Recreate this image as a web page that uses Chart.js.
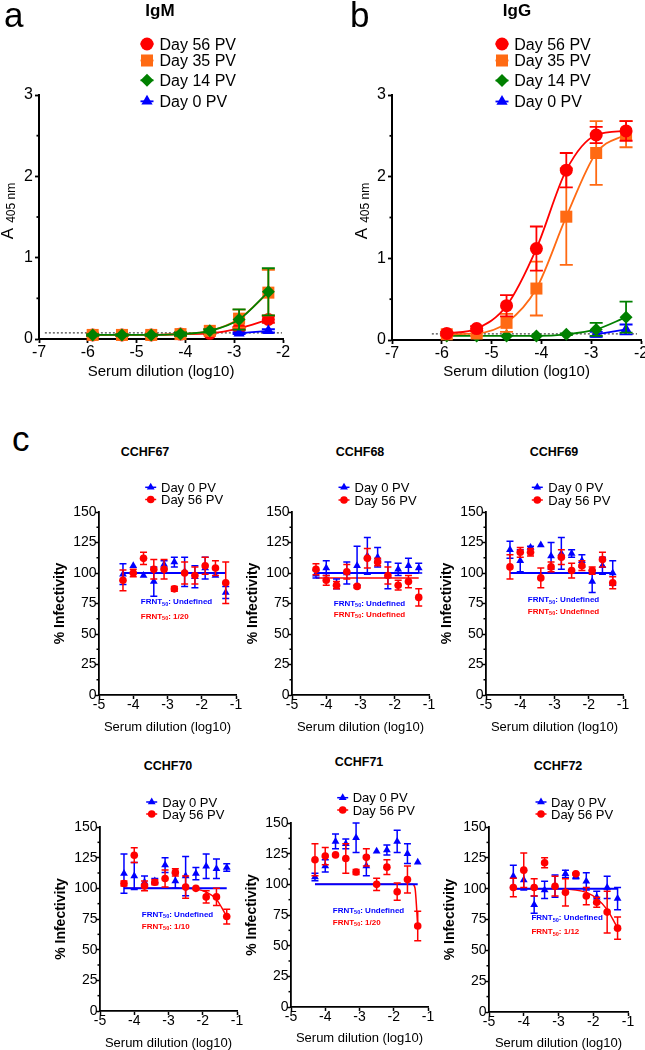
<!DOCTYPE html>
<html>
<head>
<meta charset="utf-8">
<title>IgM / IgG ELISA and FRNT curves</title>
<script src="https://cdn.jsdelivr.net/npm/chart.js@4.4.1/dist/chart.umd.min.js"></script>
<style>
  html, body { margin: 0; padding: 0; background: #fff; overflow: hidden; }
  body { position: relative; width: 645px; height: 1050px; font-family: 'Liberation Sans', Arial, sans-serif; }
  canvas { position: absolute; }
  .txt { position: absolute; white-space: nowrap; line-height: 1; color: #000; }
</style>
</head>
<body>
<script>
// ---------- data ----------

// ELISA, serum dilution (log10)
const elisaDil = [-5.9, -5.3, -4.7, -4.1, -3.5, -2.9, -2.3];
const elisaNames = ['Day 56 PV', 'Day 35 PV', 'Day 14 PV', 'Day 0 PV'];
const cutoff = 0.075;

// a - IgM
const igmD56 = [0.05, 0.05, 0.05, 0.06, 0.07, 0.13, 0.24];
const igmD56Err = [0.01, 0.01, 0.01, 0.01, 0.01, 0.02, 0.04];
const igmD35 = [0.05, 0.05, 0.05, 0.06, 0.10, 0.25, 0.57];
const igmD35Err = [0.01, 0.01, 0.01, 0.02, 0.02, 0.11, 0.28];
const igmD14 = [0.05, 0.05, 0.05, 0.06, 0.10, 0.24, 0.58];
const igmD14Err = [0.01, 0.01, 0.01, 0.02, 0.02, 0.125, 0.29];
const igmD0 = [null, null, null, null, null, 0.07, 0.10];
const igmD0Err = [0, 0, 0, 0, 0, 0.01, 0.02];

// b - IgG
const iggD56 = [0.08, 0.14, 0.42, 1.12, 2.08, 2.51, 2.56];
const iggD56Err = [0.02, 0.03, 0.13, 0.27, 0.21, 0.10, 0.12];
const iggD35 = [0.07, 0.08, 0.21, 0.63, 1.51, 2.29, 2.52];
const iggD35Err = [0.02, 0.03, 0.11, 0.33, 0.59, 0.39, 0.16];
const iggD14 = [0.05, 0.05, 0.05, 0.05, 0.07, 0.13, 0.28];
const iggD14Err = [0, 0, 0, 0, 0.01, 0.08, 0.19];
const iggD0 = [null, null, null, null, null, 0.07, 0.13];
const iggD0Err = [0, 0, 0, 0, 0, 0.03, 0.06];

// c - FRNT, serum dilution (log10)
const frntDil = [-4.3, -4.0, -3.7, -3.4, -3.1, -2.8, -2.5, -2.2, -1.9, -1.6, -1.3];

const c67Day0 = [99, 106, 98, 93, 107, 109, 101, 97, 104, 98, 84];
const c67Day0Err = [8.5, 0, 0, 12, 3, 4, 12, 9, 9, 0, 5];
const c67Day56 = [94, 100, 112, 103, 103, 87, 100, 98, 106, 104, 92];
const c67Day56Err = [8.5, 3, 5, 8, 8, 2, 9, 7, 7, 6, 17];
const c67FitX = [-4.3, -1.3];
const c67FitDay0 = [100, 100];
const c67FitDay56 = [100, 100];

const c68Day0 = [99, 104, 91, 100, 106, 114, 113, 98, 103, 106, 104];
const c68Day0Err = [3, 6, 4, 9, 16, 15, 8, 11, 5, 6, 4];
const c68Day56 = [103, 94, 90, 101, 89, 112, 109, 98, 90, 93, 80];
const c68Day56Err = [4.5, 4, 3, 6, 1, 8, 3, 7, 4, 5, 7];
const c68FitX = [-4.3, -1.3];
const c68FitDay0 = [100, 100];
const c68FitDay56 = [96, 96];

const c69Day0 = [119, 110, 121, 123, 114, 116, 116, 110, 93, 106, 100];
const c69Day0Err = [7, 9, 1, 0, 11, 13, 3, 5, 9, 7, 10];
const c69Day56 = [105, 117, 117, 96, 105, 113, 102, 106, 102, 111, 92];
const c69Day56Err = [10, 4, 3, 8, 4, 6, 6, 4, 3, 6, 5];
const c69FitX = [-4.3, -1.3];
const c69FitDay0 = [100, 100];
const c69FitDay56 = [100, 100];

const c70Day0 = [112, 110, 105, 106, 119, 106, 110, 112, 118, 116, 117];
const c70Day0Err = [16, 11, 5, 2, 6, 6, 16, 5, 10, 8, 3];
const c70Day56 = [104, 127, 102, 105, 108, 113, 101, 100, 93, 93, 77];
const c70Day56Err = [2, 6, 4, 2, 7, 3, 9, 0, 5, 7, 6];
const c70FitX0 = [-4.3, -1.3];
const c70FitDay0 = [100, 100];
const c70FitX56 = [-4.3, -2.5, -2.2, -1.9, -1.6, -1.3];
const c70FitDay56 = [100, 100, 99.5, 97, 91, 77];

const c71Day0 = [106, 115, 135, 133, 138, 115, 127, 128, 135, 125, 118];
const c71Day0Err = [3, 5, 6, 4, 12, 8, 0, 4, 9, 8, 0];
const c71Day56 = [120, 123, 124, 121, 110, 122, 100, 114, 94, 104, 66];
const c71Day56Err = [13, 7, 0, 12, 2, 7, 5, 6, 7, 11, 12];
const c71FitX0 = [-4.3, -1.3];
const c71FitDay0 = [100, 100];
const c71FitX56 = [-4.3, -1.45, -1.38, -1.3];
const c71FitDay56 = [100, 100, 97, 66];

const c72Day0 = [110, 107, 87, 99, 102, 112, 110, 106, 93, 101, 92];
const c72Day0Err = [9, 8, 7, 7, 9, 3, 2, 7, 5, 9, 9];
const c72Day56 = [101, 115, 101, 121, 102, 97, 112, 94, 89, 81, 68];
const c72Day56Err = [7.5, 14, 7, 4, 8, 11, 1, 7, 4, 17, 9];
const c72FitX0 = [-4.3, -1.3];
const c72FitDay0 = [100, 100];
const c72FitX56 = [-4.3, -3.1, -2.5, -2.2, -1.9, -1.6, -1.3];
const c72FitDay56 = [100, 100, 99, 97, 92, 83, 68];

// ---------- helpers ----------
const FONT = "'Liberation Sans', Arial, Helvetica, sans-serif";
const BLACK = '#000';
const RED = '#ff0000', ORANGE = '#ff6a13', GREEN = '#008000', BLUE = '#0000ff';

Chart.defaults.font.family = FONT;
Chart.defaults.color = BLACK;

function pts(xs, ys) {
  return xs.map((x, i) => ({ x: x, y: ys[i] }));
}

// points (optionally joined by a smooth line) with error bars
function series(label, xs, ys, errs, st) {
  return {
    label: label, data: pts(xs, ys), errors: errs,
    borderColor: st.color, backgroundColor: st.color,
    pointBackgroundColor: st.color, pointBorderColor: st.color, pointBorderWidth: 0,
    pointStyle: st.shape, pointRadius: st.r, pointHoverRadius: st.r,
    showLine: !!st.line, borderWidth: st.lw || 1.5, cubicInterpolationMode: 'monotone',
    capHalf: st.cap, errWidth: st.ew, order: st.order, clip: false
  };
}

function curve(xs, ys, color, lw, order, dash) {
  return {
    label: '', data: pts(xs, ys), borderColor: color, borderWidth: lw,
    borderDash: dash || [], pointRadius: 0, pointHoverRadius: 0, showLine: true,
    cubicInterpolationMode: 'monotone', order: order, clip: false
  };
}

// error bars, drawn right before their own dataset
const errorBars = {
  id: 'errorBars',
  beforeDatasetDraw(chart, args) {
    const ds = chart.data.datasets[args.index];
    if (!ds.errors) return;
    const ys = chart.scales.y, ctx = chart.ctx;
    ctx.save();
    ctx.strokeStyle = ds.borderColor;
    ctx.lineWidth = ds.errWidth;
    args.meta.data.forEach((pt, i) => {
      const v = ds.data[i].y, e = ds.errors[i];
      if (v === null || !e) return;
      const x = pt.x;
      const top = ys.getPixelForValue(v + e), bot = ys.getPixelForValue(v - e);
      ctx.beginPath();
      ctx.moveTo(x, top); ctx.lineTo(x, bot);
      ctx.moveTo(x - ds.capHalf, top); ctx.lineTo(x + ds.capHalf, top);
      ctx.moveTo(x - ds.capHalf, bot); ctx.lineTo(x + ds.capHalf, bot);
      ctx.stroke();
    });
    ctx.restore();
  }
};

// short ticks half way between the labelled y ticks
const minorTicks = {
  id: 'minorTicks',
  afterDraw(chart, args, o) {
    if (!o.step) return;
    const ys = chart.scales.y, ctx = chart.ctx, left = chart.chartArea.left;
    ctx.save();
    ctx.strokeStyle = BLACK;
    ctx.lineWidth = o.width;
    for (let v = ys.min + o.step; v < ys.max; v += o.step * 2) {
      const py = ys.getPixelForValue(v);
      ctx.beginPath();
      ctx.moveTo(left - o.len, py); ctx.lineTo(left, py);
      ctx.stroke();
    }
    ctx.restore();
  }
};

const panelLegend = {
  id: 'panelLegend',
  afterDraw(chart, args, o) {
    if (!o.rows) return;
    const ctx = chart.ctx;
    o.rows.forEach(row => {
      const ds = chart.data.datasets[row.ds];
      ctx.save();
      ctx.strokeStyle = ds.borderColor;
      ctx.lineWidth = o.lw;
      ctx.beginPath();
      ctx.moveTo(o.x - o.half, row.y); ctx.lineTo(o.x + o.half, row.y);
      ctx.stroke();
      ctx.fillStyle = ds.pointBackgroundColor;
      Chart.helpers.drawPoint(ctx, { pointStyle: ds.pointStyle, radius: ds.pointRadius, rotation: 0, borderWidth: 0 }, o.x, row.y);
      ctx.fillStyle = BLACK;
      ctx.font = o.size + 'px ' + FONT;
      ctx.textBaseline = 'alphabetic';
      ctx.fillText(ds.label, o.textX, row.y + 0.358 * o.size);
      ctx.restore();
    });
  }
};

// "FRNT50: ..." notes, anchored in data units
const frntNotes = {
  id: 'frntNotes',
  afterDraw(chart, args, o) {
    if (!o.items) return;
    const ctx = chart.ctx, xs = chart.scales.x, ys = chart.scales.y;
    o.items.forEach(n => {
      let px = xs.getPixelForValue(n.x);
      const py = ys.getPixelForValue(n.y);
      ctx.save();
      ctx.fillStyle = n.color;
      ctx.textBaseline = 'middle';
      ctx.font = 'bold 8px ' + FONT;
      ctx.fillText('FRNT', px, py);
      px += ctx.measureText('FRNT').width;
      ctx.font = 'bold 5.5px ' + FONT;
      ctx.fillText('50', px, py + 2.2);
      px += ctx.measureText('50').width;
      ctx.font = 'bold 8px ' + FONT;
      ctx.fillText(': ' + n.text, px, py);
      ctx.restore();
    });
  }
};

// y title with subscript: A 405 nm
const subTitle = {
  id: 'subTitle',
  afterDraw(chart, args, o) {
    if (!o.main) return;
    const ctx = chart.ctx;
    ctx.save();
    ctx.translate(o.x, o.y);
    ctx.rotate(-Math.PI / 2);
    ctx.fillStyle = BLACK;
    ctx.textBaseline = 'alphabetic';
    ctx.font = o.size + 'px ' + FONT;
    const w1 = ctx.measureText(o.main).width;
    ctx.font = o.subSize + 'px ' + FONT;
    const w2 = ctx.measureText(o.sub).width;
    const s = -(w1 + o.gap + w2) / 2;
    ctx.font = o.size + 'px ' + FONT;
    ctx.fillText(o.main, s, 0);
    ctx.font = o.subSize + 'px ' + FONT;
    ctx.fillText(o.sub, s + w1 + o.gap, o.drop);
    ctx.restore();
  }
};

function text(str, x, baseline, size, bold, center) {
  const d = document.createElement('div');
  d.className = 'txt';
  d.textContent = str;
  d.style.fontSize = size + 'px';
  d.style.fontWeight = bold ? 'bold' : 'normal';
  d.style.top = (baseline - 0.8465 * size) + 'px';
  if (center) {
    d.style.left = (x - 100) + 'px';
    d.style.width = '200px';
    d.style.textAlign = 'center';
  } else {
    d.style.left = x + 'px';
  }
  document.body.appendChild(d);
}

function panel(p) {
  const [cx, cy, cw, ch] = p.box;
  const [L, T, R, B] = p.area;
  const c = document.createElement('canvas');
  c.width = cw; c.height = ch;
  c.style.left = cx + 'px'; c.style.top = cy + 'px';
  document.body.appendChild(c);
  const xlh = p.xTitleSize * 1.2;
  const ylh = p.yTitleSize * 1.2;
  const rows = p.legend.rows.map((y, i) => ({ ds: p.legend.ds[i], y: y - cy }));
  const sub = p.subTitle ? Object.assign({}, p.subTitle, { x: p.subTitle.x - cx, y: p.subTitle.y - cy }) : {};
  return new Chart(c, {
    type: 'line',
    data: { datasets: p.datasets },
    options: {
      responsive: false, animation: false, devicePixelRatio: 1, events: [],
      layout: { padding: { left: 0, top: T - cy, right: cx + cw - R, bottom: 0 } },
      plugins: {
        legend: { display: false }, tooltip: { enabled: false }, title: { display: false },
        minorTicks: { step: p.minor, len: p.minorLen, width: p.tickW },
        panelLegend: { x: p.legend.x - cx, textX: p.legend.textX - cx, rows: rows, size: p.legend.size, half: p.legend.half, lw: p.legend.lw },
        frntNotes: { items: p.notes || [] },
        subTitle: sub
      },
      scales: {
        x: {
          type: 'linear', min: p.xRange[0], max: p.xRange[1],
          ticks: { stepSize: 1, color: BLACK, padding: p.xTickPad, font: { size: p.tickSize, lineHeight: 1 } },
          border: { color: BLACK, width: p.axisW },
          grid: { drawOnChartArea: false, tickLength: p.tickLen, tickWidth: p.tickW, tickColor: BLACK },
          title: { display: true, text: 'Serum dilution (log10)', color: BLACK, font: { size: p.xTitleSize },
                   padding: { top: 0, bottom: cy + ch - p.xTitleMid - xlh / 2 } },
          afterFit(s) { s.height = cy + ch - B; s.paddingLeft = 0; s.paddingRight = 0; s.paddingTop = 0; s.paddingBottom = 0; }
        },
        y: {
          type: 'linear', min: p.yRange[0], max: p.yRange[1],
          ticks: { stepSize: p.yStep, color: BLACK, padding: p.yTickPad, font: { size: p.tickSize, lineHeight: 1 } },
          border: { color: BLACK, width: p.axisW },
          grid: { drawOnChartArea: false, tickLength: p.tickLen, tickWidth: p.tickW, tickColor: BLACK },
          title: p.yTitle
            ? { display: true, text: p.yTitle, color: BLACK, font: { size: p.yTitleSize, weight: 'bold' },
                padding: { top: p.yTitleMid - cx - ylh / 2, bottom: 0 } }
            : { display: false },
          afterFit(s) { s.width = L - cx; s.paddingLeft = 0; s.paddingRight = 0; s.paddingTop = 0; s.paddingBottom = 0; }
        }
      }
    },
    plugins: [errorBars, minorTicks, panelLegend, frntNotes, subTitle]
  });
}

// ---------- a & b: ELISA ----------
const big = { tickSize: 16, tickLen: 4, tickW: 1.8, axisW: 2, xTickPad: 1.5, yTickPad: 2, minorLen: 2.5,
              xRange: [-7, -2], yRange: [0, 3], yStep: 1, minor: 0.5, xTitleSize: 15, xTitleMid: 371.8, yTitleSize: 15 };

function elisaSets(d56, e56, d35, e35, d14, e14, d0, e0, ord, cut) {
  return [
    series(elisaNames[0], elisaDil, d56, e56, { color: RED, shape: 'circle', r: 6.5, line: true, lw: 1.8, cap: 6.5, ew: 1.8, order: ord[0] }),
    series(elisaNames[1], elisaDil, d35, e35, { color: ORANGE, shape: 'rect', r: 8.5, line: true, lw: 1.8, cap: 6.5, ew: 1.8, order: ord[1] }),
    series(elisaNames[2], elisaDil, d14, e14, { color: GREEN, shape: 'rectRot', r: 6.5, line: true, lw: 1.8, cap: 6.5, ew: 1.8, order: ord[2] }),
    series(elisaNames[3], elisaDil, d0, e0, { color: BLUE, shape: 'triangle', r: 6.5, line: true, lw: 1.8, cap: 6.5, ew: 1.8, order: ord[3] }),
    curve(cut, [cutoff, cutoff], '#444', 1.2, 9, [2, 2])
  ];
}

panel(Object.assign({}, big, {
  box: [0, 0, 325, 392], area: [39, 95, 283, 339],
  subTitle: { main: 'A', sub: '405 nm', size: 17, subSize: 12, gap: 5, drop: 2, x: 13.3, y: 211 },
  legend: { x: 147, textX: 159.5, rows: [44, 60.5, 80.3, 101.3], ds: [0, 1, 2, 3], size: 16, half: 6.5, lw: 1.8 },
  datasets: elisaSets(igmD56, igmD56Err, igmD35, igmD35Err, igmD14, igmD14Err, igmD0, igmD0Err, [4, 3, 1, 2], [-6.88, -2.02])
}));

panel(Object.assign({}, big, {
  box: [330, 0, 330, 392], area: [392, 95, 641, 340],
  subTitle: { main: 'A', sub: '405 nm', size: 17, subSize: 12, gap: 5, drop: 2, x: 366.7, y: 211 },
  legend: { x: 502, textX: 514.3, rows: [44, 60.5, 80.5, 101.5], ds: [0, 1, 2, 3], size: 16, half: 6.5, lw: 1.8 },
  datasets: elisaSets(iggD56, iggD56Err, iggD35, iggD35Err, iggD14, iggD14Err, iggD0, iggD0Err, [1, 2, 3, 4], [-6.2, -2.08])
}));

// ---------- c: FRNT ----------
const small = { tickSize: 14, tickLen: 4, tickW: 1.5, axisW: 1.8, xTickPad: -1, yTickPad: -1.5, minorLen: 2.5,
                xRange: [-5, -1], yRange: [0, 150], yStep: 25, minor: 12.5, xTitleSize: 13, yTitleSize: 14,
                yTitle: '% Infectivity' };

function frntSets(d0, e0, d56, e56, fx0, f0, fx56, f56) {
  return [
    series('Day 0 PV', frntDil, d0, e0, { color: BLUE, shape: 'triangle', r: 4.5, cap: 3.5, ew: 1.5, order: 2 }),
    series('Day 56 PV', frntDil, d56, e56, { color: RED, shape: 'circle', r: 3.8, cap: 3.5, ew: 1.5, order: 1 }),
    curve(fx0, f0, BLUE, 2, 3),
    curve(fx56, f56, RED, 1.5, 4)
  ];
}

function frnt(area, box, xMid, legend, notes, sets) {
  panel(Object.assign({}, small, {
    box: box, area: area, xTitleMid: xMid, yTitleMid: area[0] - 38.5,
    legend: { x: legend[0], textX: legend[1], rows: [legend[2], legend[3]], ds: [0, 1], size: 13, half: 5.5, lw: 1.5 },
    notes: [
      { x: -3.78, y: notes[0], color: BLUE, text: 'Undefined' },
      { x: -3.78, y: notes[1], color: RED, text: notes[2] }
    ],
    datasets: sets
  }));
}

frnt([99, 512, 236, 695], [39, 470, 212, 270], 727, [150.7, 161, 487.3, 499.5], [76, 64.5, '1/20'],
     frntSets(c67Day0, c67Day0Err, c67Day56, c67Day56Err, c67FitX, c67FitDay0, c67FitX, c67FitDay56));
frnt([292, 512, 429, 695], [232, 470, 212, 270], 727, [344, 354.5, 487.3, 500], [75, 66, 'Undefined'],
     frntSets(c68Day0, c68Day0Err, c68Day56, c68Day56Err, c68FitX, c68FitDay0, c68FitX, c68FitDay56));
frnt([486, 512, 623, 695], [426, 470, 219, 270], 727, [537.3, 548.3, 487.3, 500], [78, 68.5, 'Undefined'],
     frntSets(c69Day0, c69Day0Err, c69Day56, c69Day56Err, c69FitX, c69FitDay0, c69FitX, c69FitDay56));
frnt([100, 827, 237, 1011], [40, 780, 212, 270], 1043, [151.7, 162.3, 802, 814], [78.5, 69, '1/10'],
     frntSets(c70Day0, c70Day0Err, c70Day56, c70Day56Err, c70FitX0, c70FitDay0, c70FitX56, c70FitDay56));
frnt([291, 823, 428, 1007], [231, 775, 212, 275], 1038, [342.7, 352.7, 797.7, 810], [78.5, 69, '1/20'],
     frntSets(c71Day0, c71Day0Err, c71Day56, c71Day56Err, c71FitX0, c71FitDay0, c71FitX56, c71FitDay56));
frnt([489, 827, 628, 1012], [429, 780, 216, 270], 1043, [541, 551, 802, 814], [76, 65, '1/12'],
     frntSets(c72Day0, c72Day0Err, c72Day56, c72Day56Err, c72FitX0, c72FitDay0, c72FitX56, c72FitDay56));

// ---------- panel letters and titles ----------
text('a', 4, 27, 35, false, false);
text('b', 350, 27, 35, false, false);
text('c', 12, 451, 35, false, false);
text('IgM', 160, 16, 17, true, true);
text('IgG', 517, 16, 17, true, true);
text('CCHF67', 145, 456.5, 12.5, true, true);
text('CCHF68', 360, 456.5, 12.5, true, true);
text('CCHF69', 554, 456.5, 12.5, true, true);
text('CCHF70', 168, 770.7, 12.5, true, true);
text('CCHF71', 359, 766.7, 12.5, true, true);
text('CCHF72', 558, 770.7, 12.5, true, true);
</script>
</body>
</html>
